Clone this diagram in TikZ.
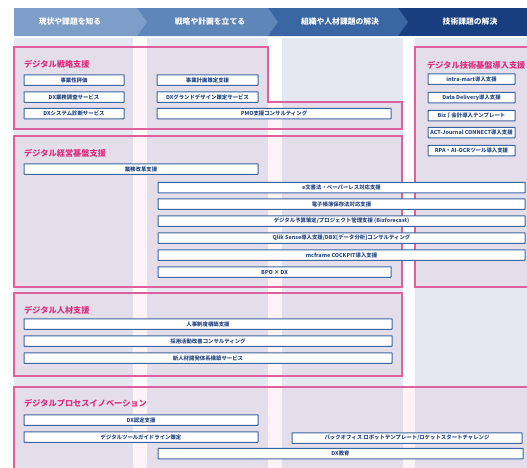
\documentclass[tikz,border=0pt]{standalone}
\usepackage{fontspec}
\setmainfont{Noto Sans CJK JP}
\newfontfamily\jp{Noto Sans CJK JP}
\definecolor{colbg}{HTML}{E4E9F1}
\definecolor{grpink}{HTML}{E0609C}
\definecolor{lblpink}{HTML}{DE2F7E}
\definecolor{boxblue}{HTML}{3D65A0}
\definecolor{boxtext}{HTML}{2A4A85}
\definecolor{hdA}{HTML}{7D9EC8}
\definecolor{hdB}{HTML}{5F86B9}
\definecolor{hdC}{HTML}{3B66A4}
\definecolor{hdD}{HTML}{193E80}
\tikzset{
  colrect/.style={fill=colbg, draw=none},
  grp/.style={draw=grpink, line width=1.1pt, fill=grpink, fill opacity=0.08},
  glabel/.style={anchor=west, inner sep=0pt, text=lblpink, font=\jp\bfseries\fontsize{8.2}{9}\selectfont},
  bx/.style={draw=boxblue, line width=1pt, fill=white, inner sep=0pt, minimum height=10.5pt,
             rounded corners=0.4pt, text=boxtext, font=\jp\bfseries\fontsize{5.4}{6}\selectfont},
  hdtext/.style={text=white, inner sep=0pt, font=\jp\bfseries\fontsize{7.8}{9}\selectfont},
}
\begin{document}
\begin{tikzpicture}[x=1pt,y=-1pt]
\useasboundingbox (0,0) rectangle (527,467);
\begin{scope}
\clip (0,0) rectangle (527,467);
% background columns
\fill[colrect] (14,38) rectangle (133,470);
\fill[colrect] (147,38) rectangle (268,470);
\fill[colrect] (282,38) rectangle (403,470);
\fill[colrect] (415,38) rectangle (530,470);
% header chevrons
\fill[hdD] (398,8) rectangle (530,36);
\fill[hdC] (268,8) -- (398,8) -- (408,22) -- (398,36) -- (268,36) -- cycle;
\fill[hdB] (137,8) -- (268,8) -- (278,22) -- (268,36) -- (137,36) -- cycle;
\fill[hdA] (14,8) -- (137,8) -- (147,22) -- (137,36) -- (14,36) -- cycle;
\node[hdtext] (h1) at (70,22) {現状や課題を知る};
\node[hdtext] (h2) at (210,22) {戦略や計画を立てる};
\node[hdtext] (h3) at (340,22) {組織や人材課題の解決};
\node[hdtext] (h4) at (470,22) {技術課題の解決};
% groups
\draw[grp] (14,47) -- (268,47) -- (268,102) -- (402,102) -- (402,129) -- (14,129) -- cycle;
\draw[grp] (415,47) rectangle (532,287);
\draw[grp] (14,136) rectangle (402,287);
\draw[grp] (14,293) rectangle (402,376);
\draw[grp] (14,387) rectangle (532,472);
\end{scope}
% group labels
\node[glabel] (g1) at (24,64) {デジタル戦略支援};
\node[glabel] (g2) at (427,65) {デジタル技術基盤導入支援};
\node[glabel] (g3) at (24,153) {デジタル経営基盤支援};
\node[glabel] (g4) at (24,310) {デジタル人材支援};
\node[glabel] (g5) at (24,403) {デジタルプロセスイノベーション};
% group 1 boxes
\node[bx, minimum width=100pt] (a1) at (74,80) {事業性評価};
\node[bx, minimum width=100pt] (a2) at (74,97) {DX業務調査サービス};
\node[bx, minimum width=100pt] (a3) at (74,113.5) {DXシステム診断サービス};
\node[bx, minimum width=101pt] (a4) at (207.5,80) {事業計画策定支援};
\node[bx, minimum width=101pt] (a5) at (207.5,97) {DXグランドデザイン策定サービス};
\node[bx, minimum width=234pt] (a6) at (274,113.5) {PMO支援コンサルティング};
% group 2 boxes
\node[bx, minimum width=87pt] (b1) at (471.5,79) {intra-mart導入支援};
\node[bx, minimum width=87pt] (b2) at (471.5,97.5) {Data Delivery導入支援};
\node[bx, minimum width=87pt] (b3) at (471.5,115.5) {Biz∫会計導入テンプレート};
\node[bx, minimum width=87pt] (b4) at (471.5,132.5) {ACT-Journal CONNECT導入支援};
\node[bx, minimum width=87pt] (b5) at (471.5,150.5) {RPA・AI-OCRツール導入支援};
% group 3 boxes
\node[bx, minimum width=234pt] (c1) at (141,169) {業務改革支援};
\node[bx, minimum width=367pt] (c2) at (341.5,187.5) {e文書法・ペーパーレス対応支援};
\node[bx, minimum width=367pt] (c3) at (341.5,204) {電子帳簿保存法対応支援};
\node[bx, minimum width=367pt] (c4) at (341.5,221) {デジタル予算策定/プロジェクト管理支援 (Bizforecast)};
\node[bx, minimum width=367pt] (c5) at (341.5,238) {Qlik Sense導入支援/DBX[データ分析]コンサルティング};
\node[bx, minimum width=367pt] (c6) at (341.5,255) {mcframe COCKPIT導入支援};
\node[bx, minimum width=233pt] (c7) at (274.5,272) {BPO × DX};
% group 4 boxes
\node[bx, minimum width=368pt] (d1) at (208,324) {人事制度構築支援};
\node[bx, minimum width=368pt] (d2) at (208,341) {採用活動改善コンサルティング};
\node[bx, minimum width=368pt] (d3) at (208,358) {新人材開発体系構築サービス};
% group 5 boxes
\node[bx, minimum width=234pt] (e1) at (141,420) {DX認定支援};
\node[bx, minimum width=234pt] (e2) at (141,437) {デジタルツールガイドライン策定};
\node[bx, minimum width=230pt] (e3) at (407,438) {バックオフィス ロボットテンプレート/ロケットスタートチャレンジ};
\node[bx, minimum width=365pt] (e4) at (340.5,453.5) {DX教育};
\end{tikzpicture}
\end{document}
